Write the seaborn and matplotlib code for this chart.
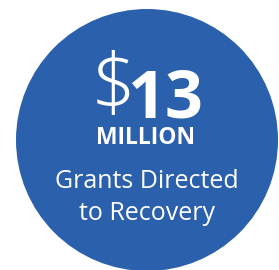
import matplotlib
matplotlib.use('Agg')
import matplotlib.pyplot as plt
import seaborn as sns
from matplotlib.patches import Circle

# values shown in the badge
amount = [13]
unit = ['MILLION']
caption = ['Grants Directed', 'to Recovery']

blue = '#2b60ad'

sns.set_theme(style='white')
plt.rcParams['font.family'] = ['Open Sans', 'DejaVu Sans']

fig = plt.figure(figsize=(2.79, 2.70), dpi=100)
ax = fig.add_axes([0, 0, 1, 1])
ax.set_xlim(0, 279)
ax.set_ylim(270, 0)
ax.axis('off')

ax.add_patch(Circle((147, 140), 131, color=blue, lw=0))

ax.text(113, 110, '$', color='white', fontsize=57, ha='center', va='baseline',
        fontweight='light')
ax.text(165, 117, f'{amount[0]}', color='white', fontsize=48, ha='center',
        va='baseline', fontweight='bold')
ax.text(146, 144, unit[0], color='white', fontsize=16.5, ha='center',
        va='baseline', fontweight='bold')
ax.text(147, 188, caption[0], color='white', fontsize=18, ha='center',
        va='baseline')
ax.text(147, 220, caption[1], color='white', fontsize=18, ha='center',
        va='baseline')

plt.savefig('out.png', dpi=100)
